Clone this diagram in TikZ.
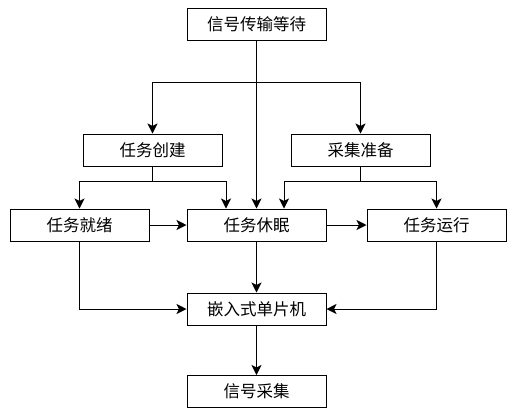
\documentclass[tikz,border=0pt]{standalone}
\usepackage{fontspec}
\setmainfont{Noto Sans CJK SC}
\usetikzlibrary{arrows.meta}
\begin{document}
\begin{tikzpicture}[x=1pt,y=-1pt,
  box/.style={draw,line width=1pt,minimum width=139pt,minimum height=32pt,inner sep=0pt,font=\fontsize{16.5}{18}\selectfont},
  arr/.style={line width=1pt,-{Stealth[length=10pt,width=10pt,inset=2.5pt]}},
  ln/.style={line width=1pt}]
\useasboundingbox (0,0) rectangle (513,408);
\node[box] (wait) at (256.5,24) {信号传输等待};
\node[box] (create) at (152.5,150) {任务创建};
\node[box] (prep) at (360.5,150) {采集准备};
\node[box] (ready) at (79.5,225) {任务就绪};
\node[box] (sleep) at (256.5,225) {任务休眠};
\node[box] (run) at (436.5,225) {任务运行};
\node[box] (mcu) at (256.5,309) {嵌入式单片机};
\node[box] (sig) at (256.5,391.5) {信号采集};
\coordinate (j1) at (256.5,82);
\coordinate (j2) at (152.5,181);
\coordinate (j3) at (360.5,181);
\draw[ln] (wait.south) -- (j1);
\draw[arr] (wait.south) -- (sleep.north);
\draw[arr] (j1) -| (create.north);
\draw[arr] (j1) -| (prep.north);
\draw[ln] (create.south) -- (j2);
\draw[arr] (j2) -| (ready.north);
\draw[arr] (j2) -| ([xshift=-30.5pt]sleep.north);
\draw[ln] (prep.south) -- (j3);
\draw[arr] (j3) -| ([xshift=27.5pt]sleep.north);
\draw[arr] (j3) -| (run.north);
\draw[arr] (ready.east) -- (sleep.west);
\draw[arr] (sleep.east) -- (run.west);
\draw[arr] (sleep.south) -- (mcu.north);
\draw[arr] (ready.south) |- (mcu.west);
\draw[arr] (run.south) |- (mcu.east);
\draw[arr] (mcu.south) -- (sig.north);
\end{tikzpicture}
\end{document}
